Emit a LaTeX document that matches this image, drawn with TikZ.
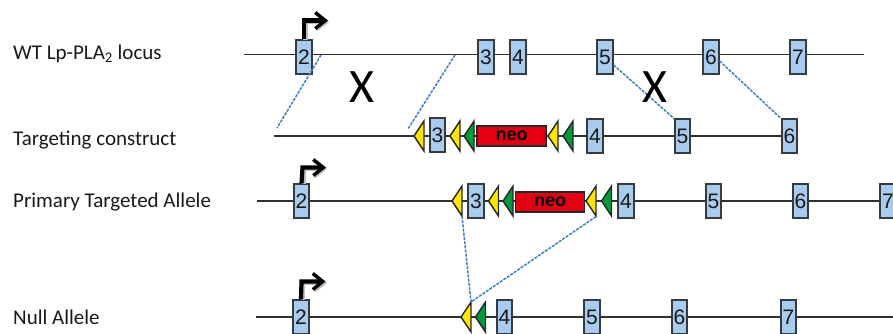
\documentclass[tikz,border=0pt]{standalone}
\usepackage{fontspec}
\setmainfont{Carlito}
\newfontfamily\exonfont{Liberation Sans}
\usetikzlibrary{arrows.meta}
\definecolor{exonfill}{HTML}{A9CCEE}
\definecolor{exonline}{HTML}{333B42}
\definecolor{dashblue}{HTML}{3F7CC4}
\definecolor{loxy}{HTML}{FFE600}
\definecolor{frtg}{HTML}{009A3D}
\definecolor{neored}{HTML}{E30012}
\tikzset{
  x=1pt,y=-1pt,
  rowlabel/.style={anchor=base west,inner sep=0pt,font=\fontsize{21}{23}\selectfont,text=black!90},
  exon/.style={draw=exonline,line width=1.7pt,fill=exonfill,minimum width=15.5pt,minimum height=33.5pt,inner sep=0pt,font=\exonfont\fontsize{21}{23}\selectfont,text=black!90},
  neobox/.style={draw=black!85,line width=1.6pt,fill=neored,minimum width=69pt,minimum height=20pt,inner sep=0pt,font=\exonfont\bfseries\fontsize{18}{20}\selectfont,text=black},
  backbone/.style={draw=black!82,line width=1.7pt},
  homology/.style={draw=dashblue,line width=1.5pt,dash pattern=on 3pt off 1.2pt},
  tss/.style={draw=black,line width=4.2pt,-{Straight Barb[length=10pt,width=16pt,line width=3.4pt]}},
  tssshadow/.style={draw=black!25,line width=4.2pt,-{Straight Barb[length=10pt,width=16pt,line width=3.4pt]}},
  bigx/.style={inner sep=0pt,font=\fontsize{48}{50}\selectfont,text=black},
  cassette/.style={draw=black!85,line width=1.4pt,line join=miter},
}
\newcommand{\sitemark}[3]{% tip x, y, colour
  \filldraw[cassette,fill=#3] (#1,#2) -- (#1+10,#2-15) -- (#1+10,#2+15) -- cycle;}
\begin{document}
\begin{tikzpicture}
\useasboundingbox (0,0) rectangle (893,334);
% free ends
\coordinate (r1s) at (244,54.5); \coordinate (r1e) at (864,54.5);
\coordinate (r2s) at (274,136);
\coordinate (r3s) at (257,201); \coordinate (r3e) at (893,201);
\coordinate (r4s) at (256,317); \coordinate (r4e) at (893,317);
\draw[backbone] (r1s) -- (r1e);
\draw[backbone] (r2s) -- (789,136);
\draw[backbone] (r3s) -- (r3e);
\draw[backbone] (r4s) -- (r4e);
% labels
\node[rowlabel] (l1) at (13,59.7) {WT Lp-PLA\textsubscript{2} locus};
\node[rowlabel] (l2) at (13,145) {Targeting construct};
\node[rowlabel] (l3) at (13,207.7) {Primary Targeted Allele};
\node[rowlabel] (l4) at (13,324.5) {Null Allele};
% row 1
\node[exon] (a2) at (304,57) {2};
\node[exon] (a3) at (486,57) {3};
\node[exon] (a4) at (518,57) {4};
\node[exon] (a5) at (605,57) {5};
\node[exon] (a6) at (711,57) {6};
\node[exon] (a7) at (798,57) {7};
% row 2
\sitemark{414}{136}{loxy}
\node[exon] (b3) at (437.5,135) {3};
\sitemark{450}{136}{loxy}
\sitemark{464}{136}{frtg}
\node[neobox] (bneo) at (511.5,136) {neo};
\sitemark{548}{136}{loxy}
\sitemark{563}{136}{frtg}
\node[exon] (b4) at (595,136) {4};
\node[exon] (b5) at (682.5,136) {5};
\node[exon] (b6) at (789.5,136) {6};
% row 3
\node[exon] (c2) at (301.5,201) {2};
\sitemark{452}{201}{loxy}
\node[exon] (c3) at (476,201) {3};
\sitemark{488.5}{201}{loxy}
\sitemark{503}{201}{frtg}
\node[neobox] (cneo) at (550,202) {neo};
\sitemark{586}{201}{loxy}
\sitemark{601.5}{201}{frtg}
\node[exon] (c4) at (626,201) {4};
\node[exon] (c5) at (713.5,201) {5};
\node[exon] (c6) at (800.5,201) {6};
\node[exon] (c7) at (888,201) {7};
% row 4
\node[exon] (d2) at (301,317) {2};
\sitemark{461}{317}{loxy}
\sitemark{475.5}{317}{frtg}
\node[exon] (d4) at (504.5,317) {4};
\node[exon] (d5) at (592,317) {5};
\node[exon] (d6) at (679.5,317) {6};
\node[exon] (d7) at (788.5,317) {7};
% homology lines
\coordinate (h1a) at (321,55); \coordinate (h1b) at (277,128);
\coordinate (h2a) at (455,55); \coordinate (h2b) at (408,129);
\coordinate (h3a) at (462,216); \coordinate (h3b) at (471,302);
\coordinate (h4a) at (596,216.5);
\draw[homology] (h1a) -- (h1b);
\draw[homology] (h2a) -- (h2b);
\draw[homology] (a5.east |- 0,65) -- (b5.north west);
\draw[homology] (a6.east |- 0,61) -- (b6.north west);
\draw[homology] (h3a) -- (h3b);
\draw[homology] (h4a) -- (h3b);
% promoter arrows
\draw[tssshadow] (305.5,40) -- (305.5,22) -- (329,22);
\draw[tss] (a2.north) -- (304,20.5) -- (328,20.5);
\draw[tssshadow] (304,184) -- (304,169) -- (327,169);
\draw[tss] (c2.north) -- (302.5,167.5) -- (326,167.5);
\draw[tssshadow] (303,300) -- (303,283) -- (327,283);
\draw[tss] (d2.north) -- (301.5,281.5) -- (325.5,281.5);
% crossover marks
\node[bigx] (x1) at (362,87) {X};
\node[bigx] (x2) at (655,87) {X};
\end{tikzpicture}
\end{document}
